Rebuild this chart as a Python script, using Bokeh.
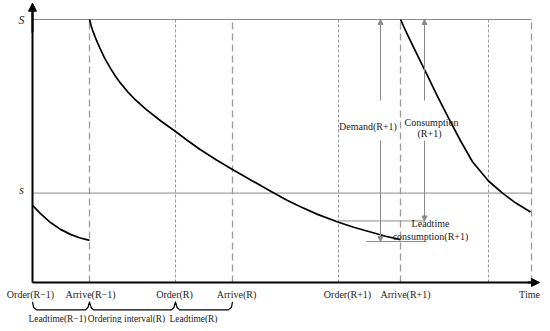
from bokeh.plotting import figure
from bokeh.models import Range1d, Arrow, NormalHead
from bokeh.core.properties import value
from bokeh.embed import file_html
from bokeh.resources import INLINE

# ---------------- data ----------------
S_LEVEL = 100.0
s_LEVEL = 34.0

# event times (order / arrival instants)
order_t = [0, 143, 306, 456]
arrive_t = [57, 200, 368, 499]

axis_labels = ["Order(R\u22121)", "Arrive(R\u22121)", "Order(R)", "Arrive(R)",
               "Order(R+1)", "Arrive(R+1)", "Time"]
axis_label_t = [-2, 58, 142, 204, 315, 373, 497]

brace_t = [0, 57, 143, 200]
brace_labels = ["Leadtime(R\u22121)", "Ordering interval(R)", "Leadtime(R)"]
brace_label_t = [25, 94, 161]

# inventory level curves
cycle0_t = [0, 8, 18, 28, 38, 47, 57]
cycle0_level = [29.3, 26.2, 22.8, 20.2, 18.3, 17.0, 16.0]

cycle1_t = [57, 58.5, 60, 63, 65, 68, 72, 78, 83, 88, 95, 103, 113, 128, 143, 155,
            168, 184, 200, 220, 240, 255, 268, 285, 306, 322, 338, 353, 368]
cycle1_level = [100, 97.8, 96.0, 93.0, 91.2, 88.6, 85.4, 81.4, 78.4, 75.8, 72.6,
                69.4, 66.0, 61.5, 57.4, 54.0, 50.5, 46.6, 43.0, 38.6, 34.3, 31.2,
                28.8, 25.9, 22.9, 20.9, 19.2, 17.6, 16.3]

cycle2_t = [368, 374, 380, 393, 405, 416, 428, 440, 456, 470, 483, 498]
cycle2_level = [100, 95.0, 90.3, 80.2, 70.8, 62.6, 53.9, 45.9, 38.6, 34.0, 30.3, 26.8]

demand_t = 348
consumption_t = 392
order_level_next = 23.4     # level at Order(R+1)
min_level_next = 15.6       # level just before Arrive(R+1)

# ---------------- figure ----------------
PX_PER_UNIT = 2.63
W, H = 542, 323
Y_TOP = 282 / PX_PER_UNIT
p = figure(width=W, height=H, x_range=Range1d(-32, W - 32),
           y_range=Range1d(Y_TOP - H / PX_PER_UNIT, Y_TOP),
           x_axis_type=None, y_axis_type=None,
           output_backend="svg", toolbar_location=None, min_border=0)
p.grid.visible = False
p.outline_line_color = None

FONT = value("Liberation Serif")
GRAY = "#8a8a8a"
DASH = "#9a9a9a"
TXT = "#222222"

# S and s reference lines
p.line([0, arrive_t[-1]], [S_LEVEL, S_LEVEL], line_color=GRAY, line_width=1)
p.line([0, arrive_t[-1]], [s_LEVEL, s_LEVEL], line_color=GRAY, line_width=1)

# vertical dashed lines
for t in arrive_t:
    p.line([t, t], [0, S_LEVEL], line_color=DASH, line_width=1.3, line_dash="7 4")
for t in order_t[1:]:
    p.line([t, t], [0, S_LEVEL], line_color=DASH, line_width=1.1, line_dash="3 2")

# inventory curves
for tt, ll in [(cycle0_t, cycle0_level), (cycle1_t, cycle1_level), (cycle2_t, cycle2_level)]:
    p.line(tt, ll, line_color="black", line_width=1.7, line_join="round")

# lead time consumption bracket lines
p.line([order_t[2], consumption_t + 1], [order_level_next, order_level_next],
       line_color=GRAY, line_width=1)
p.line([demand_t - 14, consumption_t], [min_level_next, min_level_next],
       line_color=GRAY, line_width=1)

# axes with arrows
p.line([0, 0], [0, 104], line_color="black", line_width=2)
p.line([0, 503], [0, 0], line_color="black", line_width=2)
p.add_layout(Arrow(end=NormalHead(size=8, fill_color="black", line_color="black"),
                   x_start=0, y_start=95, x_end=0, y_end=106.2,
                   line_color="black", line_width=2))
p.add_layout(Arrow(end=NormalHead(size=8, fill_color="black", line_color="black"),
                   x_start=495, y_start=0, x_end=507, y_end=0,
                   line_color="black", line_width=2))

gap_top, gap_bot = 69.2, 54.0


def gray_arrow(x, y0, y1):
    p.add_layout(Arrow(end=NormalHead(size=5, fill_color=GRAY, line_color=GRAY),
                       x_start=x, y_start=y0, x_end=x, y_end=y1,
                       line_color=GRAY, line_width=1))


gray_arrow(demand_t, gap_top, S_LEVEL)
gray_arrow(demand_t, gap_bot, min_level_next)
gray_arrow(consumption_t, gap_top, S_LEVEL)
gray_arrow(consumption_t, gap_bot, order_level_next)

# braces under the axis
bx, by = [], []
top, mid, low = -7.4, -9.4, -10.4
bx += [brace_t[0], brace_t[0] + 1, brace_t[0] + 4]
by += [top, mid, low]
for t in brace_t[1:-1]:
    bx += [t - 4, t - 1.5, t, t + 1.5, t + 4]
    by += [low, mid, top, mid, low]
bx += [brace_t[-1] - 4, brace_t[-1] - 1, brace_t[-1]]
by += [low, mid, top]
p.line(bx, by, line_color="black", line_width=1.2, line_join="round")

# texts
p.text(x=axis_label_t, y=[-4.6] * len(axis_labels), text=axis_labels,
       text_font=FONT, text_font_size="10px", text_align="center",
       text_baseline="middle", text_color=TXT)
p.text(x=brace_label_t, y=[-13.9] * len(brace_labels), text=brace_labels,
       text_font=FONT, text_font_size="9.4px", text_align="center",
       text_baseline="middle", text_color=TXT)
p.text(x=[-11, -11], y=[S_LEVEL, s_LEVEL + 1.2], text=["S", "s"],
       text_font=FONT, text_font_size="12px", text_font_style="italic",
       text_align="center", text_baseline="middle", text_color=TXT)
p.text(x=[335.5], y=[59.5], text=["Demand(R+1)"], text_font=FONT,
       text_font_size="10px", text_align="center", text_baseline="middle",
       text_color=TXT)
p.text(x=[399, 397], y=[61.0, 56.6], text=["Consumption", "(R+1)"], text_font=FONT,
       text_font_size="10px", text_align="center", text_baseline="middle",
       text_color=TXT)
p.text(x=[398, 398], y=[22.4, 17.5], text=["Leadtime", "consumption(R+1)"],
       text_font=FONT, text_font_size="10px", text_align="center",
       text_baseline="middle", text_color=TXT)

open("out.html", "w").write(file_html(p, INLINE))
